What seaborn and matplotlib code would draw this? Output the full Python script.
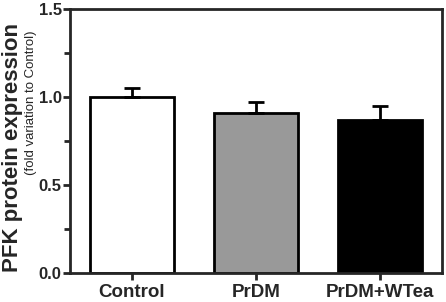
import matplotlib
matplotlib.use("Agg")
import matplotlib.pyplot as plt
import numpy as np
import pandas as pd
import seaborn as sns
from matplotlib.ticker import MultipleLocator, FormatStrFormatter

# Date
grupuri = ["Control", "PrDM", "PrDM+WTea"]
medii = [1.00, 0.91, 0.87]
erori = [0.05, 0.063, 0.08]
culori = ["white", "#999999", "black"]

df = pd.DataFrame({"grup": grupuri, "valoare": medii})

sns.set_style("ticks")
plt.rcParams["font.family"] = ["Liberation Sans", "DejaVu Sans"]

fig = plt.figure(figsize=(4.46, 3.02), dpi=100)
ax = fig.add_axes([70 / 446, 29 / 302, 372 / 446, 264 / 302])

sns.barplot(data=df, x="grup", y="valoare", hue="grup", palette=culori,
            width=0.68, edgecolor="black", linewidth=2, legend=False, ax=ax,
            errorbar=None)

# doar bara de eroare superioara
pozitii = np.arange(len(grupuri))
ax.errorbar(pozitii, medii, yerr=[np.zeros(len(erori)), erori], fmt="none",
            ecolor="black", elinewidth=2, capsize=6, capthick=2, zorder=1)

ax.set_xlim(-0.5, 2.5)
ax.set_ylim(0, 1.5)
ax.yaxis.set_major_locator(MultipleLocator(0.5))
ax.yaxis.set_minor_locator(MultipleLocator(0.25))
ax.yaxis.set_major_formatter(FormatStrFormatter("%.1f"))

for s in ax.spines.values():
    s.set_linewidth(2)
    s.set_visible(True)

ax.tick_params(axis="both", which="major", width=2, length=5)
ax.tick_params(axis="y", which="minor", width=2, length=4)
ax.tick_params(axis="x", labelsize=13.5, pad=3)
ax.tick_params(axis="y", labelsize=12, pad=1)
for lbl in ax.get_xticklabels() + ax.get_yticklabels():
    lbl.set_fontweight("bold")

ax.set_xlabel("")
ax.set_ylabel("")

fig.text(13 / 446, 1 - 148 / 302, "PFK protein expression", rotation=90,
         ha="center", va="center", fontsize=16, fontweight="bold")
fig.text(31 / 446, 1 - 103 / 302, "(fold variation to Control)", rotation=90,
         ha="center", va="center", fontsize=9.5)

plt.savefig("out.png", dpi=100)
